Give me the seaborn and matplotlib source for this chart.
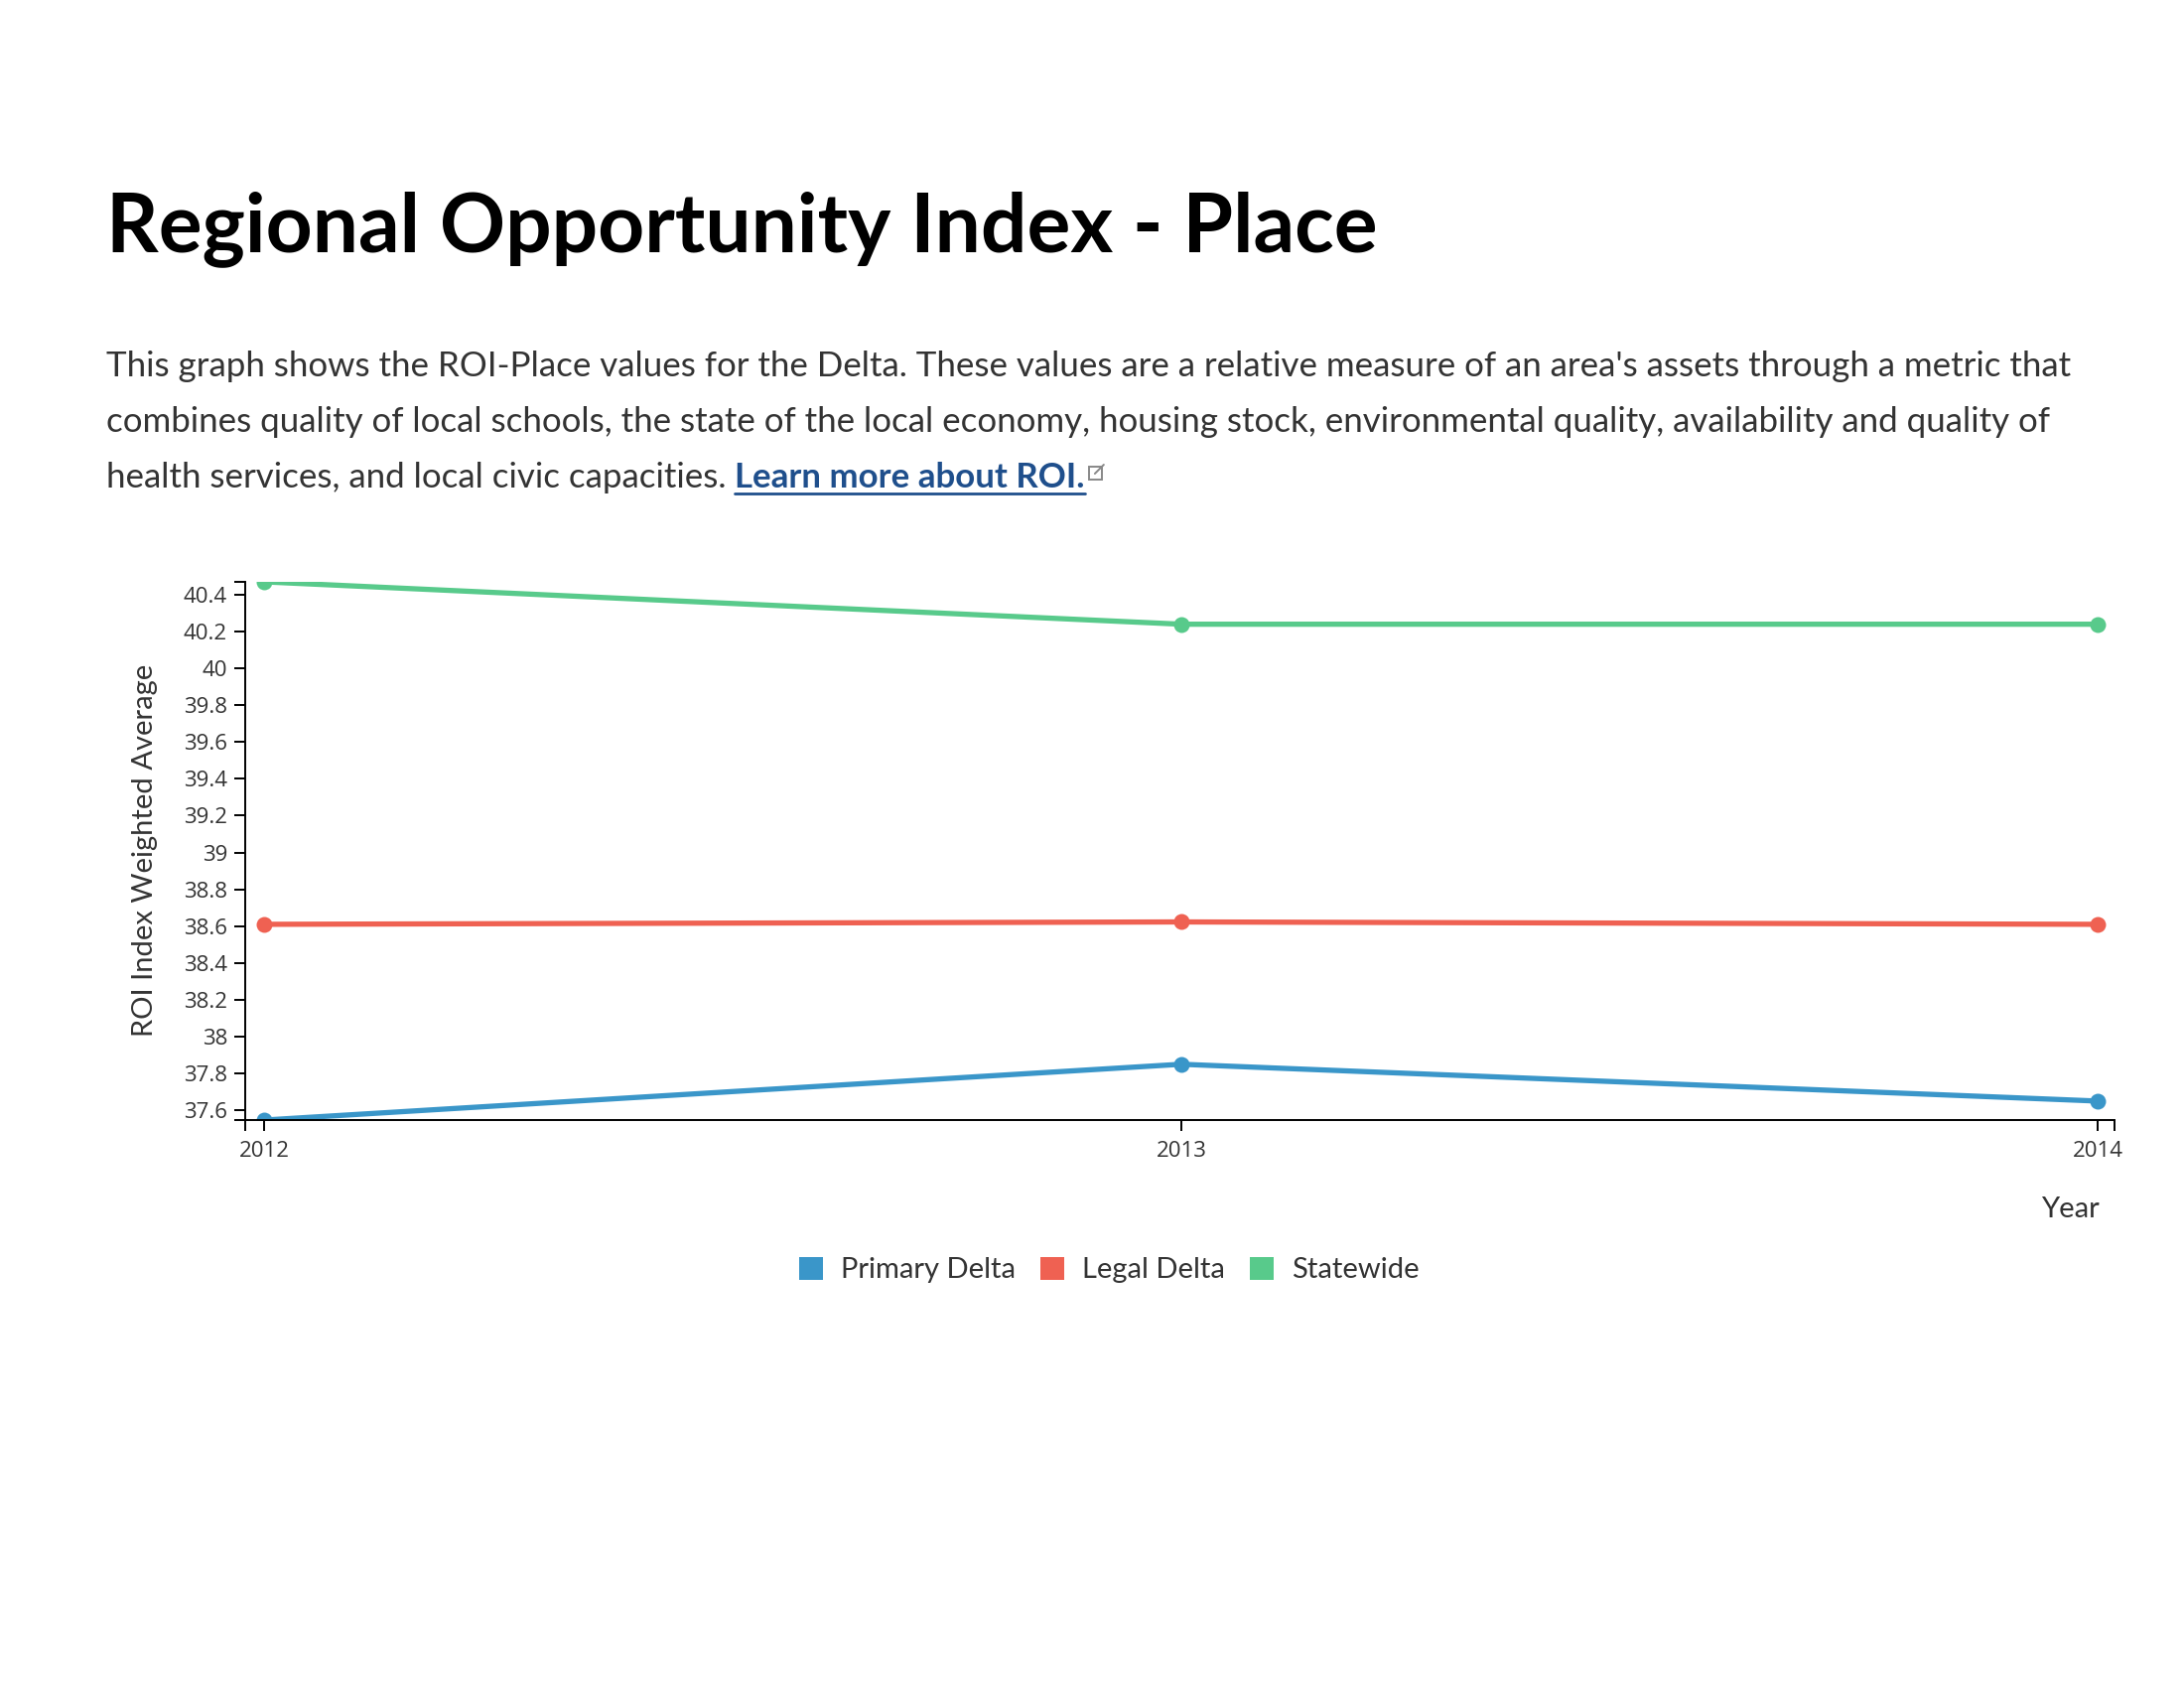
import numpy as np
import pandas as pd
import matplotlib
matplotlib.use("Agg")
import matplotlib.pyplot as plt
import seaborn as sns
from matplotlib.patches import Patch, Rectangle
from matplotlib.lines import Line2D

# ---------------- data ----------------
years = [2012, 2013, 2014]
primary_delta = [37.547, 37.85, 37.65]
legal_delta = [38.61, 38.623, 38.61]
statewide = [40.47, 40.24, 40.24]
series_names = ["Primary Delta", "Legal Delta", "Statewide"]
series_colors = ["#3a96c9", "#ef6152", "#58ca8b"]
y_ticks = [37.6, 37.8, 38.0, 38.2, 38.4, 38.6, 38.8, 39.0, 39.2, 39.4, 39.6, 39.8, 40.0, 40.2, 40.4]
y_tick_labels = ["37.6", "37.8", "38", "38.2", "38.4", "38.6", "38.8", "39", "39.2", "39.4", "39.6", "39.8", "40", "40.2", "40.4"]
x_tick_labels = ["2012", "2013", "2014"]

title = "Regional Opportunity Index - Place"
para_lines = [
    "This graph shows the ROI-Place values for the Delta. These values are a relative measure of an area's assets through a metric that",
    "combines quality of local schools, the state of the local economy, housing stock, environmental quality, availability and quality of",
    "health services, and local civic capacities. ",
]
link_text = "Learn more about ROI."

df = pd.DataFrame({
    "Year": years * 3,
    "Value": primary_delta + legal_delta + statewide,
    "Series": [series_names[0]] * 3 + [series_names[1]] * 3 + [series_names[2]] * 3,
})

# ---------------- style ----------------
sns.set_theme(style="ticks")
plt.rcParams["font.family"] = ["Lato", "DejaVu Sans"]
TXT = "#333333"

W, H = 2200, 1700
fig = plt.figure(figsize=(22, 17), dpi=100)
fig.patch.set_facecolor("white")

L, R, T, B = 247, 2130, 586, 1128
ax = fig.add_axes([L / W, 1 - B / H, (R - L) / W, (B - T) / H])

palette = dict(zip(series_names, series_colors))
sns.lineplot(data=df, x="Year", y="Value", hue="Series", hue_order=series_names,
             palette=palette, marker="o", markersize=11.5, markeredgewidth=0,
             linewidth=3.8, ax=ax, legend=False)

ymin, ymax = min(df["Value"]), max(df["Value"])
ax.set_ylim(ymin, ymax)
ax.set_xlim(2011.979, 2014.018)
ax.set_yticks(y_ticks)
ax.set_yticklabels(y_tick_labels)
ax.set_xticks(years)
ax.set_xticklabels(x_tick_labels)
ax.set_yticks([ymin, ymax], minor=True)
ax.set_xticks(list(ax.get_xlim()), minor=True)
ax.tick_params(axis="both", which="both", length=8, width=1.4, color="black",
               labelsize=16, labelcolor=TXT, direction="out")
ax.tick_params(axis="y", pad=5)
ax.tick_params(axis="x", pad=7)
for s in ["top", "right"]:
    ax.spines[s].set_visible(False)
for s in ["left", "bottom"]:
    ax.spines[s].set_color("black")
    ax.spines[s].set_linewidth(1.4)
ax.set_xlabel("")
ax.set_ylabel("")
for t in ax.get_xticklabels() + ax.get_yticklabels():
    t.set_fontfamily(["Open Sans", "DejaVu Sans"])

fig.text(146 / W, 1 - 856 / H, "ROI Index Weighted Average", rotation=90,
         ha="center", va="center", fontsize=21, color=TXT)
fig.text(2085 / W, 1 - 1218 / H, "Year", ha="center", va="center", fontsize=21, color=TXT)

# title + paragraph
fig.text(107 / W, 1 - 253 / H, title, fontsize=59, fontweight="bold",
         color="black", va="baseline", ha="left")
baselines = [379, 435, 491]
texts = []
for line, bl in zip(para_lines, baselines):
    texts.append(fig.text(107 / W, 1 - bl / H, line, fontsize=25.1, color=TXT,
                          va="baseline", ha="left"))

fig.canvas.draw()
rend = fig.canvas.get_renderer()
bb = texts[2].get_window_extent(rend)
lx = bb.x1 / W
link = fig.text(lx, 1 - baselines[2] / H, link_text, fontsize=25.1, fontweight="bold",
                color="#1f4f8c", va="baseline", ha="left")
fig.canvas.draw()
lb = link.get_window_extent(rend)
fig.add_artist(Line2D([lb.x0 / W, lb.x1 / W], [1 - (baselines[2] + 6) / H] * 2,
                      color="#1f4f8c", linewidth=2, transform=fig.transFigure))
# external link icon
ix = lb.x1 / W + 4 / W
fig.add_artist(Rectangle((ix, 1 - (baselines[2] - 8) / H), 13 / W, 13 / H,
                         fill=False, edgecolor="#888888", linewidth=1.4,
                         transform=fig.transFigure))
fig.add_artist(Line2D([ix + 6 / W, ix + 15 / W], [1 - (baselines[2] - 14) / H, 1 - (baselines[2] - 23) / H],
                      color="#888888", linewidth=1.4, transform=fig.transFigure))

# legend
handles = [Patch(facecolor=c, edgecolor="none", label=n) for n, c in zip(series_names, series_colors)]
fig.legend(handles=handles, loc="center", bbox_to_anchor=(1117 / W, 1 - 1279 / H),
           ncol=3, frameon=False, fontsize=21, handlelength=0.85, handleheight=0.85,
           handletextpad=0.6, columnspacing=0.85, labelcolor=TXT)

fig.savefig("out.png", dpi=100, facecolor="white")
